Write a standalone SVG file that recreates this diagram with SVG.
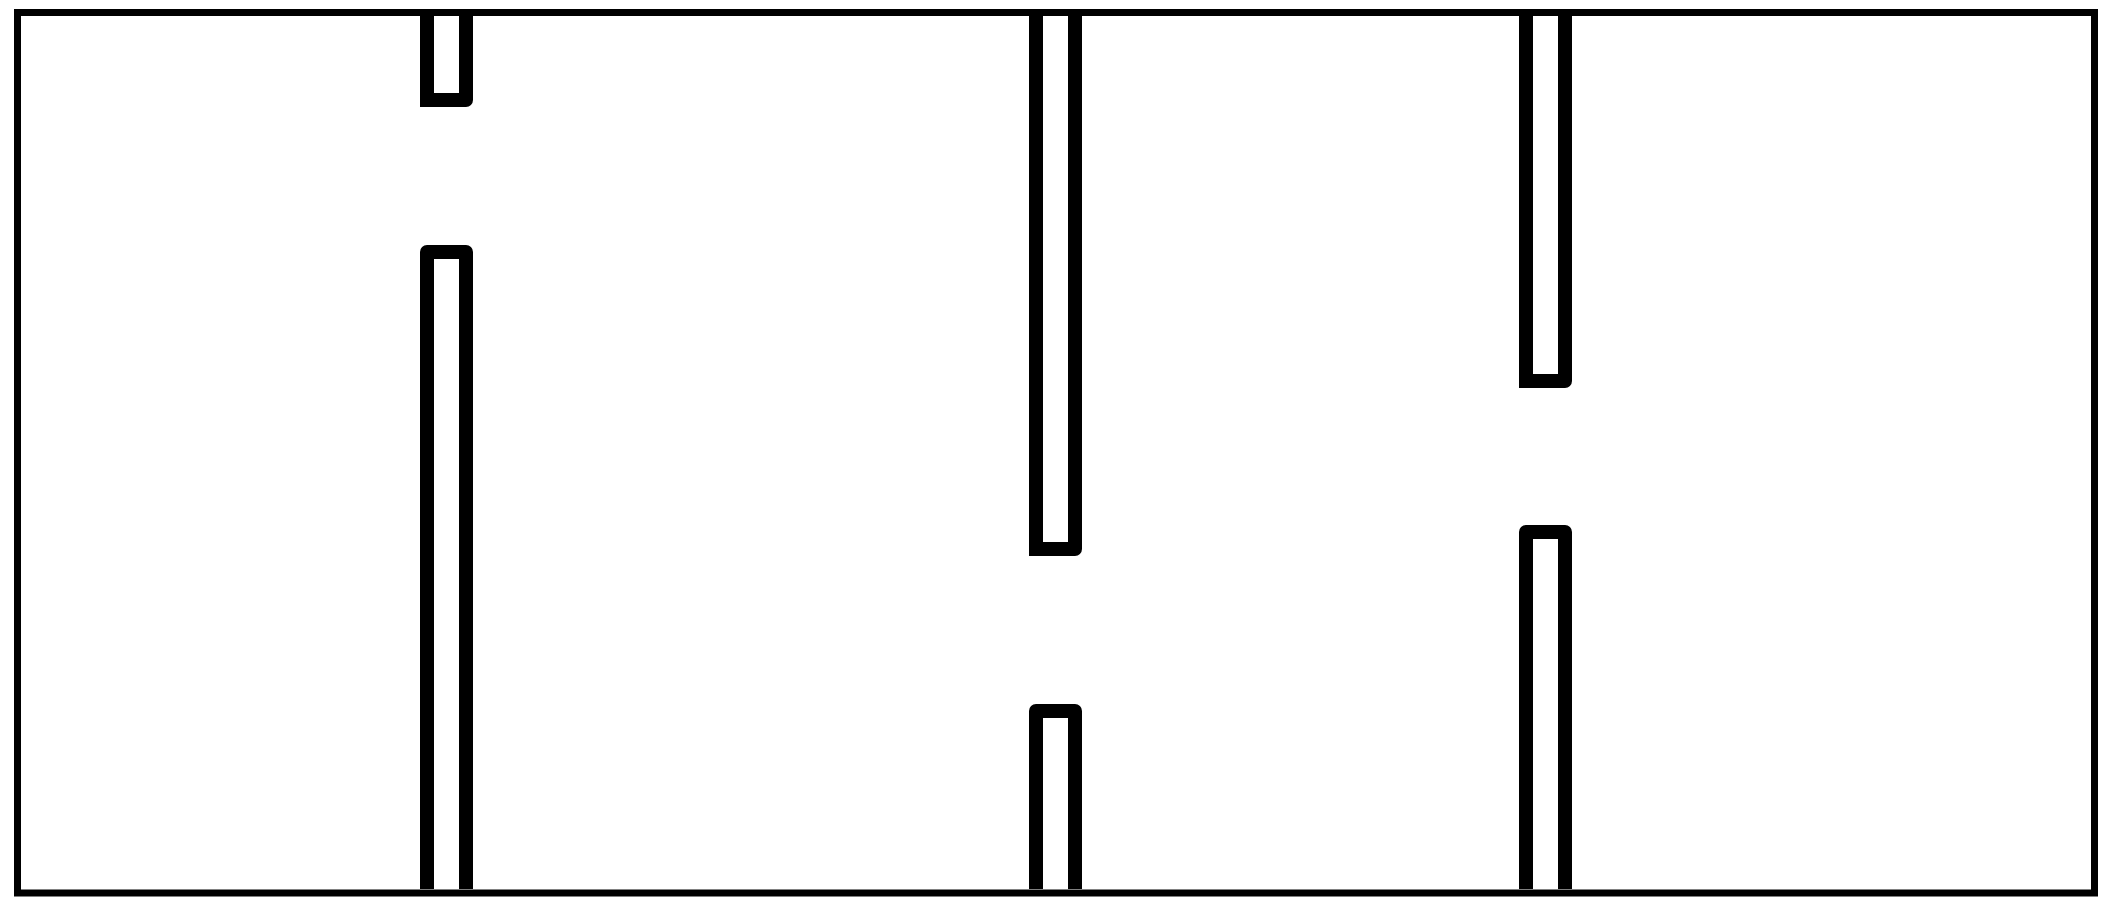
<svg xmlns="http://www.w3.org/2000/svg" width="2107" height="911" viewBox="0 0 2107 911">
<style>
.border{fill:none;stroke:#000;stroke-width:7}
.wall{fill:none;stroke:#000;stroke-width:14;stroke-linejoin:round}
.sq{fill:none;stroke:#000;stroke-width:14;stroke-linejoin:miter}
</style>
<rect width="2107" height="911" fill="#fff"/>
<g id="walls">
<g id="wall-left-top"><path class="wall" d="M466,16 V100 H427 V16"/><path class="sq" d="M466,100 H427 V16"/></g>
<g id="wall-left-bottom"><path class="wall" d="M427,889 V252 H466 V889"/></g>
<g id="wall-mid-top"><path class="wall" d="M1075,16 V549 H1036 V16"/><path class="sq" d="M1075,549 H1036 V16"/></g>
<g id="wall-mid-bottom"><path class="wall" d="M1036,889 V711 H1075 V889"/></g>
<g id="wall-right-top"><path class="wall" d="M1565,16 V381 H1526 V16"/><path class="sq" d="M1565,381 H1526 V16"/></g>
<g id="wall-right-bottom"><path class="wall" d="M1526,889 V532 H1565 V889"/></g>
</g>
<g id="outline"><rect class="border" x="17.5" y="12.5" width="2077" height="880.5"/></g>
</svg>
